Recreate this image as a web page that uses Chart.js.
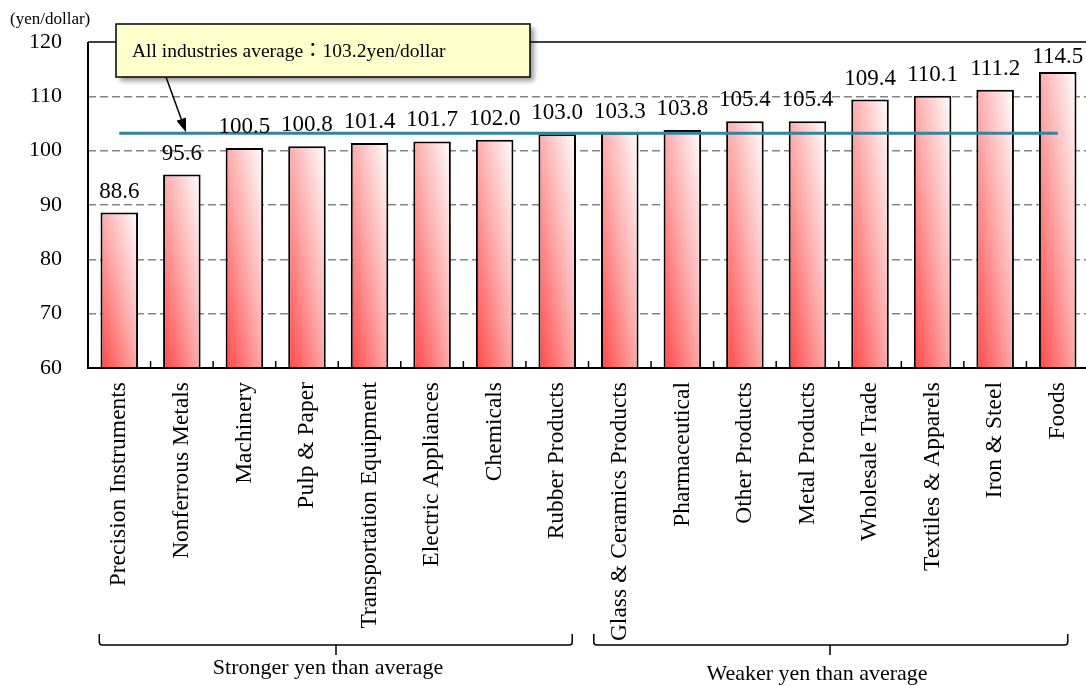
<!DOCTYPE html>
<html>
<head>
<meta charset="utf-8">
<script src="https://cdn.jsdelivr.net/npm/chart.js@4/dist/chart.umd.min.js"></script>
<style>
  html, body { margin: 0; padding: 0; width: 1086px; height: 686px; overflow: hidden; background: #fff; }
  canvas { display: block; }
</style>
</head>
<body>
<canvas id="chart" width="1092" height="686" style="width:1092px;height:686px"></canvas>
<script>
// Average yen/dollar rate assumed by each industry
const categories = [
  'Precision Instruments', 'Nonferrous Metals', 'Machinery', 'Pulp & Paper',
  'Transportation Equipment', 'Electric Appliances', 'Chemicals', 'Rubber Products',
  'Glass & Ceramics Products', 'Pharmaceutical', 'Other Products', 'Metal Products',
  'Wholesale Trade', 'Textiles & Apparels', 'Iron & Steel', 'Foods'
];
const rates = [88.6, 95.6, 100.5, 100.8, 101.4, 101.7, 102.0, 103.0,
               103.3, 103.8, 105.4, 105.4, 109.4, 110.1, 111.2, 114.5];
const allIndustriesAverage = 103.2;
const yTicks = [60, 70, 80, 90, 100, 110, 120];
const unitLabel = '(yen/dollar)';
const calloutText = 'All industries average\uFF1A' + allIndustriesAverage.toFixed(1) + 'yen/dollar';
const groupLabels = ['Stronger yen than average', 'Weaker yen than average'];
const groupFirst = [0, 8];
const groupLast = [7, 15];

const SERIF = '"Liberation Serif", "Times New Roman", "Noto Sans CJK JP", serif';
const BAR_PCT = 0.6;

// Diagonal red-to-white fill whose mid isoline runs corner to corner
function barFill(ctx) {
  const chart = ctx.chart;
  const xs = chart.scales.x, ys = chart.scales.y;
  if (!xs || !ys || ctx.type !== 'data' || !chart.chartArea) return '#ff9a9a';
  const cx = xs.getPixelForValue(ctx.dataIndex);
  const w = (xs.width / categories.length) * BAR_PCT;
  const x0 = cx - w / 2;
  const yb = ys.getPixelForValue(ys.min);
  const yt = ys.getPixelForValue(ctx.raw);
  const h = Math.max(yb - yt, 1);
  const len = Math.sqrt(w * w + h * h);
  const dx = h / len, dy = -w / len;
  const L = 2 * w * h / len;
  const g = chart.ctx.createLinearGradient(x0, yb, x0 + dx * L, yb + dy * L);
  g.addColorStop(0, '#ff4646');
  g.addColorStop(0.5, '#ffaaaa');
  g.addColorStop(1, '#ffffff');
  return g;
}

const decorations = {
  id: 'decorations',
  beforeDraw(chart) {
    const c = chart.ctx;
    c.save();
    c.fillStyle = '#ffffff';
    c.fillRect(0, 0, chart.width, chart.height);
    c.restore();
  },
  afterDatasetsDraw(chart) {
    const c = chart.ctx;
    const xs = chart.scales.x, ys = chart.scales.y;
    const area = chart.chartArea;
    c.save();

    // plot frame: left axis, bottom axis, top edge
    c.strokeStyle = '#000';
    c.lineWidth = 2;
    c.beginPath();
    c.moveTo(area.left, area.top);
    c.lineTo(area.left, area.bottom);
    c.lineTo(chart.width, area.bottom);
    c.stroke();
    c.lineWidth = 1.5;
    c.beginPath();
    c.moveTo(area.left, area.top);
    c.lineTo(chart.width, area.top);
    c.stroke();

    // inside tick marks between categories
    c.lineWidth = 1.5;
    for (let i = 1; i < categories.length; i++) {
      const bx = (xs.getPixelForValue(i - 1) + xs.getPixelForValue(i)) / 2;
      c.beginPath();
      c.moveTo(bx, area.bottom - 7);
      c.lineTo(bx, area.bottom);
      c.stroke();
    }

    // value labels above bars
    c.fillStyle = '#000';
    c.font = '23px ' + SERIF;
    c.textAlign = 'center';
    c.textBaseline = 'alphabetic';
    rates.forEach((v, i) => {
      const px = xs.getPixelForValue(i);
      const top = ys.getPixelForValue(v);
      const base = Math.max(top - 15, area.top + 21);
      c.fillText(v.toFixed(1), px, base);
    });

    // unit label
    c.font = '17px ' + SERIF;
    c.textAlign = 'left';
    c.textBaseline = 'middle';
    c.fillText(unitLabel, 10, 20);

    // callout box with shadow
    const bx0 = 116, by0 = 24, bw = 414, bh = 53;
    c.save();
    c.shadowColor = 'rgba(0,0,0,0.4)';
    c.shadowBlur = 5;
    c.shadowOffsetX = 4;
    c.shadowOffsetY = 4;
    c.fillStyle = '#ffffcc';
    c.fillRect(bx0, by0, bw, bh);
    c.restore();
    c.strokeStyle = '#000';
    c.lineWidth = 1.5;
    c.strokeRect(bx0, by0, bw, bh);
    c.fillStyle = '#000';
    c.font = '19.5px ' + SERIF;
    c.textAlign = 'left';
    c.textBaseline = 'middle';
    c.fillText(calloutText, bx0 + 16, by0 + bh / 2 + 1);

    // arrow from the callout down to the average line
    const ax0 = 166, ay0 = by0 + bh;
    const ax1 = 186, ay1 = ys.getPixelForValue(allIndustriesAverage) - 1;
    const ang = Math.atan2(ay1 - ay0, ax1 - ax0);
    const head = 14, half = 5;
    c.lineWidth = 1.5;
    c.beginPath();
    c.moveTo(ax0, ay0);
    c.lineTo(ax1 - Math.cos(ang) * head, ay1 - Math.sin(ang) * head);
    c.stroke();
    c.beginPath();
    c.moveTo(ax1, ay1);
    c.lineTo(ax1 - Math.cos(ang) * head - Math.sin(ang) * half, ay1 - Math.sin(ang) * head + Math.cos(ang) * half);
    c.lineTo(ax1 - Math.cos(ang) * head + Math.sin(ang) * half, ay1 - Math.sin(ang) * head - Math.cos(ang) * half);
    c.closePath();
    c.fill();

    // group brackets under the category labels
    const bTop = 634, bMid = 645, bTip = 655, r = 3;
    const bracketEnds = [
      [xs.getPixelForValue(groupFirst[0]) - 20, xs.getPixelForValue(groupLast[0]) + 15, 336, 328, 668],
      [xs.getPixelForValue(groupFirst[1]) - 26, xs.getPixelForValue(groupLast[1]) + 10, 830, 817, 674]
    ];
    c.lineWidth = 1.5;
    c.font = '22px ' + SERIF;
    c.textAlign = 'center';
    c.textBaseline = 'middle';
    bracketEnds.forEach(([x1, x2, cx, tx, ty], k) => {
      c.beginPath();
      c.moveTo(x1, bTop);
      c.lineTo(x1, bMid - r);
      c.quadraticCurveTo(x1, bMid, x1 + r, bMid);
      c.lineTo(x2 - r, bMid);
      c.quadraticCurveTo(x2, bMid, x2, bMid - r);
      c.lineTo(x2, bTop);
      c.moveTo(cx, bMid);
      c.lineTo(cx, bTip);
      c.stroke();
      c.fillText(groupLabels[k], tx, ty);
    });

    c.restore();
  }
};

new Chart(document.getElementById('chart'), {
  data: {
    labels: categories,
    datasets: [
      {
        type: 'line',
        label: 'All industries average',
        data: categories.map(() => allIndustriesAverage),
        borderColor: '#31859c',
        borderWidth: 3,
        pointRadius: 0,
        fill: false,
        order: 0
      },
      {
        type: 'bar',
        label: 'Assumed rate',
        data: rates,
        backgroundColor: barFill,
        borderColor: '#000',
        borderWidth: 2,
        borderSkipped: false,
        barPercentage: BAR_PCT,
        categoryPercentage: 1,
        order: 1
      }
    ]
  },
  options: {
    responsive: false,
    animation: false,
    layout: { padding: { top: 42, right: 3, left: 0, bottom: 0 } },
    plugins: { legend: { display: false }, tooltip: { enabled: false } },
    scales: {
      x: {
        offset: true,
        grid: { display: false, drawTicks: false },
        border: { display: false },
        ticks: {
          autoSkip: false,
          maxRotation: 90,
          minRotation: 90,
          padding: 14,
          color: '#000',
          font: { family: SERIF, size: 23.5 }
        },
        afterFit(scale) {
          scale.height = 318;
          scale.paddingLeft = 0;
          scale.paddingRight = 0;
        }
      },
      y: {
        min: 60,
        max: 120,
        afterBuildTicks(scale) { scale.ticks = yTicks.map(v => ({ value: v })); },
        grid: {
          drawTicks: false,
          lineWidth: 1.5,
          color: ctx => (ctx.tick && (ctx.tick.value === 60 || ctx.tick.value === 120)) ? 'rgba(0,0,0,0)' : '#858585'
        },
        border: { display: false, dash: [8, 4] },
        ticks: {
          padding: 26,
          color: '#000',
          font: { family: SERIF, size: 22 }
        },
        afterFit(scale) {
          scale.width = 88;
          scale.paddingTop = 0;
          scale.paddingBottom = 0;
        }
      }
    }
  },
  plugins: [decorations]
});
</script>
</body>
</html>
